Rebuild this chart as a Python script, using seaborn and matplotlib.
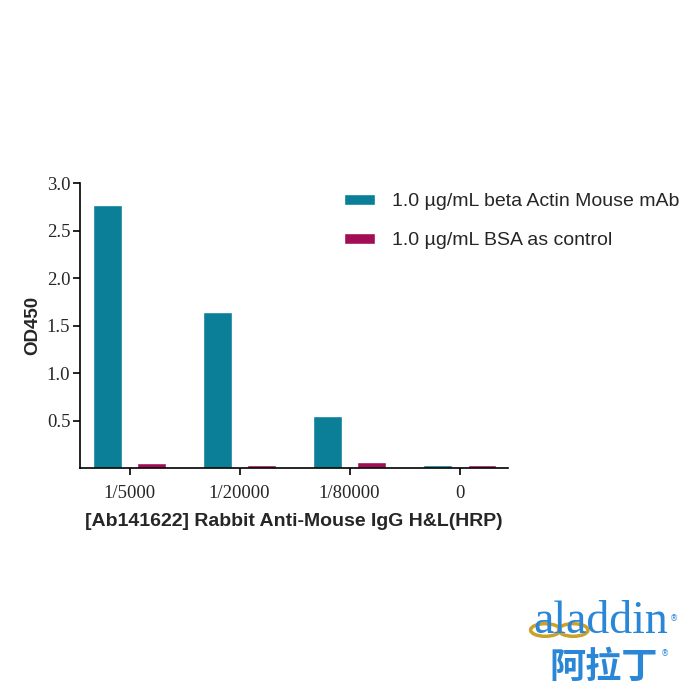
import numpy as np
import pandas as pd
import matplotlib
matplotlib.use("Agg")
import matplotlib.pyplot as plt
from matplotlib.patches import Ellipse
import seaborn as sns

# values
dilutions = ["1/5000", "1/20000", "1/80000", "0"]
actin_od = [2.77, 1.64, 0.55, 0.03]
bsa_od = [0.05, 0.03, 0.065, 0.035]
series_names = ["1.0 µg/mL beta Actin Mouse mAb", "1.0 µg/mL BSA as control"]
colors = ["#0b7f97", "#a30d55"]

df = pd.DataFrame({
    "dilution": dilutions * 2,
    "od": actin_od + bsa_od,
    "series": [series_names[0]] * 4 + [series_names[1]] * 4,
})

sns.set_style("ticks")

fig = plt.figure(figsize=(7, 7), dpi=100)
ax = fig.add_axes([0.1143, 0.3314, 0.6114, 0.407])

sns.barplot(data=df, x="dilution", y="od", hue="series", order=dilutions,
            hue_order=series_names, palette=colors, gap=0.36, width=0.8,
            saturation=1, ax=ax)

ax.set_xlim(-0.45, 3.44)
ax.set_ylim(0, 3.0)
ax.set_yticks([0.5, 1.0, 1.5, 2.0, 2.5, 3.0])
ax.set_yticklabels(["0.5", "1.0", "1.5", "2.0", "2.5", "3.0"])

for lab in ax.get_xticklabels() + ax.get_yticklabels():
    lab.set_fontfamily("Liberation Serif")
    lab.set_fontsize(13.5)
ax.tick_params(axis="both", direction="out", length=5, width=1.2, color="black")
ax.tick_params(axis="x", pad=7)
ax.tick_params(axis="y", pad=2)

ax.set_xlabel("[Ab141622] Rabbit Anti-Mouse IgG H&L(HRP)", fontfamily="Liberation Sans",
              fontsize=14, fontweight="bold", labelpad=8)
ax.set_ylabel("OD450", fontfamily="Liberation Sans", fontsize=13.5, fontweight="bold", labelpad=4)

for side in ["top", "right"]:
    ax.spines[side].set_visible(False)
for side in ["left", "bottom"]:
    ax.spines[side].set_linewidth(1.2)
    ax.spines[side].set_color("black")

leg = ax.legend(loc="upper left", bbox_to_anchor=(0.575, 1.025), frameon=False,
                prop={"family": "Liberation Sans", "size": 14},
                handlelength=1.6, handleheight=0.5, handletextpad=0.9, labelspacing=1.12)

# logo
blue = "#2a86d6"
gold = "#c9a227"
for cx in [0.779, 0.819]:
    fig.patches.append(Ellipse((cx, 0.1), 0.042, 0.018, transform=fig.transFigure,
                               fill=False, edgecolor=gold, linewidth=2.5, zorder=1))
fig.text(0.955, 0.096, "aladdin", color=blue, fontfamily="Liberation Serif",
         fontsize=33, ha="right", va="baseline", zorder=2)
fig.text(0.957, 0.113, "®", color=blue, fontsize=6)
fig.text(0.863, 0.032, "阿拉丁", color=blue, fontfamily=["Noto Sans CJK SC", "DejaVu Sans"],
         fontsize=26, fontweight="bold", ha="center", va="baseline")
fig.text(0.944, 0.062, "®", color=blue, fontsize=6)

fig.savefig("out.png", dpi=100)
